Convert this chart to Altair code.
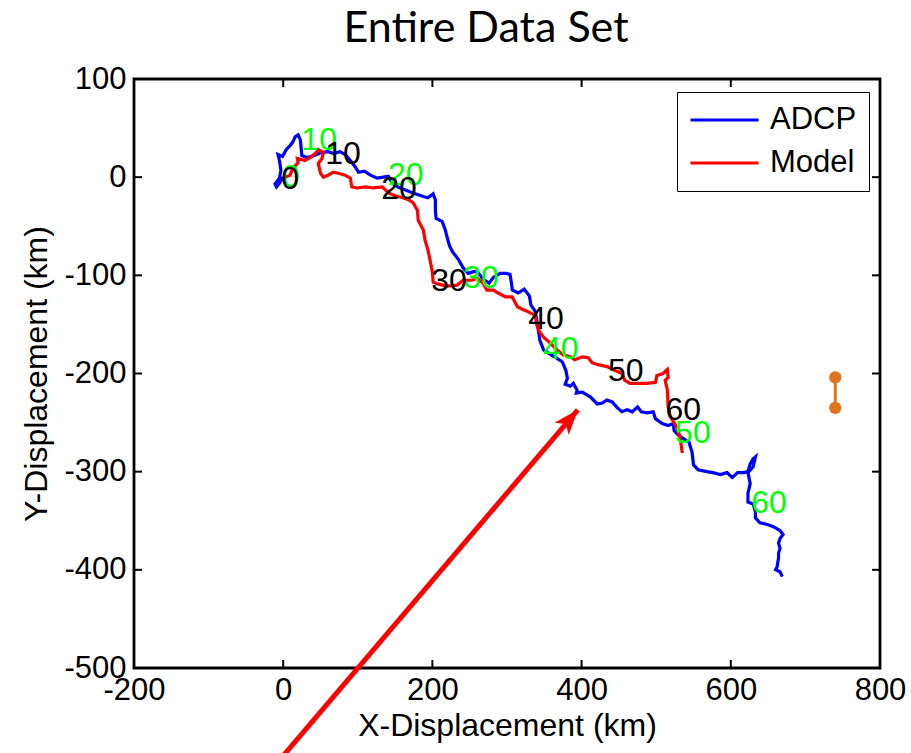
import altair as alt
import pandas as pd

# ---------------- data (km) ----------------
adcp_x = [0, -5, -9, -11, -5, -3, -5, -7, -1, 4, 9, 13, 16, 20, 23, 24, 25, 32, 42, 51,
          60, 68, 76, 83, 90, 97, 101, 109, 117, 126, 134, 141, 146, 154, 164, 173, 181, 189, 194, 201,
          204, 204, 205, 213, 217, 220, 223, 227, 235, 241, 248, 256, 261, 268, 276, 282, 291, 299, 304, 306,
          307, 315, 323, 330, 332, 338, 340, 342, 344, 349, 357, 366, 374, 379, 381, 378, 385, 389, 394, 393,
          401, 412, 421, 428, 434, 441, 448, 454, 461, 468, 475, 480, 488, 496, 499, 508, 516, 523, 524, 530,
          536, 544, 548, 550, 556, 568, 576, 586, 595, 602, 609, 617, 623, 626, 630, 633, 630, 623, 626, 623,
          623, 630, 633, 633, 639, 650, 657, 666, 670, 666, 664, 666, 664, 664, 662, 660, 666, 669]
adcp_y = [0, -6, -10, -7, -1, 7, 17, 23, 21, 28, 32, 36, 41, 43, 38, 30, 22, 20, 22, 25,
          26, 24, 26, 23, 17, 10, 5, 6, 2, -1, 0, 1, -6, -10, -13, -16, -18, -20, -21, -17,
          -23, -34, -42, -45, -53, -62, -70, -76, -84, -92, -98, -96, -97, -104, -108, -102, -98, -98, -99, -108,
          -115, -118, -114, -121, -130, -137, -146, -156, -166, -176, -180, -184, -188, -197, -205, -211, -213, -210, -217, -220,
          -219, -224, -231, -230, -227, -229, -235, -239, -237, -239, -234, -239, -240, -239, -246, -251, -253, -251, -258, -263,
          -266, -270, -280, -293, -298, -300, -301, -303, -301, -306, -301, -301, -300, -292, -287, -285, -295, -301, -312, -322,
          -331, -333, -341, -347, -352, -354, -356, -360, -364, -368, -373, -378, -383, -388, -397, -400, -402, -407]

model_x = [0, 9, 13, 20, 19, 29, 36, 43, 47, 54, 52, 47, 50, 54, 60, 67, 74, 83, 90, 92,
           99, 110, 121, 133, 141, 150, 160, 168, 174, 180, 181, 188, 190, 194, 197, 200, 201, 208, 220, 233,
           241, 253, 260, 268, 273, 282, 288, 298, 307, 314, 322, 328, 338, 340, 344, 349, 358, 367, 375, 385,
           391, 401, 409, 414, 422, 434, 445, 454, 458, 465, 479, 488, 499, 501, 509, 515, 516, 512, 515, 516,
           519, 528, 532, 535]
model_y = [-1, 2, 9, 15, 19, 17, 20, 24, 28, 25, 19, 14, 4, 0, 2, 5, 4, 2, -1, -10,
           -11, -10, -11, -10, -16, -19, -21, -23, -26, -34, -44, -54, -64, -74, -85, -97, -107, -109, -111, -110,
           -105, -105, -103, -108, -115, -115, -118, -122, -122, -132, -135, -137, -141, -151, -158, -163, -169, -176, -181, -183,
           -186, -183, -184, -189, -191, -193, -197, -200, -207, -210, -210, -210, -209, -202, -200, -196, -204, -207, -217, -234,
           -244, -255, -265, -281]

label_text = ["0", "10", "20", "30", "40", "50", "60"]
adcp_label_x = [1, 27, 143, 244, 351, 528, 630]
adcp_label_y = [0, 38, 2, -103, -175, -261, -332]
model_label_x = [0, 59, 134, 201, 331, 438, 515]
model_label_y = [-2, 24, -12, -106, -144, -197, -237]

bar_x = [740, 740]
bar_y = [-204, -235]

arrow_x = [-4, 395]
arrow_y = [-593, -237]

x_ticks = [-200, 0, 200, 400, 600, 800]
y_ticks = [-500, -400, -300, -200, -100, 0, 100]

series = ["ADCP", "Model"]
series_colors = ["#0000FF", "#FF0000"]

# ---------------- tables ----------------
lines_df = pd.concat([
    pd.DataFrame({"x": adcp_x, "y": adcp_y, "series": "ADCP", "order": range(len(adcp_x))}),
    pd.DataFrame({"x": model_x, "y": model_y, "series": "Model", "order": range(len(model_x))}),
])
adcp_lab = pd.DataFrame({"x": adcp_label_x, "y": adcp_label_y, "t": label_text})
model_lab = pd.DataFrame({"x": model_label_x, "y": model_label_y, "t": label_text})
bar_df = pd.DataFrame({"x": bar_x, "y": bar_y})
bar_seg = pd.DataFrame({"x": [bar_x[0]], "y": [bar_y[0]], "y2": [bar_y[1]]})
arrow_seg = pd.DataFrame({"x": [arrow_x[0]], "y": [arrow_y[0]], "x2": [arrow_x[1]], "y2": [arrow_y[1]]})
arrow_head = pd.DataFrame({"x": [arrow_x[1]], "y": [arrow_y[1]]})
xt = pd.DataFrame({"x": x_ticks})
yt = pd.DataFrame({"y": y_ticks})

W, H = 746, 589
FONT = "Liberation Sans"

xs = alt.Scale(domain=[-200, 800], nice=False, zero=False)
ys = alt.Scale(domain=[-500, 100], nice=False, zero=False)
xaxis = alt.Axis(values=x_ticks, grid=False, domain=False, ticks=False, labelFontSize=31,
                 labelFont=FONT, labelColor="black", labelPadding=7, title="X-Displacement (km)",
                 titleFont=FONT, titleFontSize=32, titleFontWeight="normal", titleColor="black",
                 titlePadding=5, labelFlush=False, labelExpr="'' + datum.value")
yaxis = alt.Axis(values=y_ticks, grid=False, domain=False, ticks=False, labelFontSize=31,
                 labelFont=FONT, labelColor="black", labelPadding=8, title="Y-Displacement (km)",
                 titleFont=FONT, titleFontSize=32, titleFontWeight="normal", titleColor="black",
                 titlePadding=10, labelFlush=False, labelExpr="'' + datum.value")
X = alt.X("x:Q", scale=xs, axis=xaxis)
Y = alt.Y("y:Q", scale=ys, axis=yaxis)

lines = alt.Chart(lines_df).mark_line(strokeWidth=3.2).encode(
    x=X, y=Y,
    color=alt.Color("series:N", scale=alt.Scale(domain=series, range=series_colors),
                    legend=alt.Legend(orient="none", legendX=543, legendY=13, title=None,
                                      symbolType="stroke", symbolSize=4624, symbolStrokeWidth=3,
                                      labelFontSize=31, labelFont=FONT, labelColor="black",
                                      strokeColor="black", fillColor="white", padding=12,
                                      rowPadding=11, labelOffset=10, labelLimit=400,
                                      clipHeight=32)),
    order="order:Q",
)

green_txt = alt.Chart(adcp_lab).mark_text(align="left", baseline="middle", fontSize=32, font=FONT,
                                          color="#00FF00", dx=-2).encode(x=X, y=Y, text="t:N")
black_txt = alt.Chart(model_lab).mark_text(align="left", baseline="middle", fontSize=32, font=FONT,
                                           color="black", dx=-2).encode(x=X, y=Y, text="t:N")

bar_line = alt.Chart(bar_seg).mark_rule(color="#E3731B", strokeWidth=3).encode(x=X, y=Y, y2="y2:Q")
bar_pts = alt.Chart(bar_df).mark_point(filled=True, color="#E3731B", size=150, opacity=1).encode(x=X, y=Y)

arrow_line = alt.Chart(arrow_seg).mark_rule(color="#FF0000", strokeWidth=5).encode(
    x=X, y=Y, x2="x2:Q", y2="y2:Q")
arrow_tip = alt.Chart(arrow_head).mark_point(
    shape="M0,0 L0.6,1.6 L0,1.2 L-0.6,1.6 Z", filled=True, color="#FF0000", size=975,
    angle=40.5, opacity=1).encode(x=X, y=Y)

TL = 8
tick_b = alt.Chart(xt).mark_rule(color="black", strokeWidth=2).encode(x=X, y=alt.value(H), y2=alt.value(H - TL))
tick_t = alt.Chart(xt).mark_rule(color="black", strokeWidth=2).encode(x=X, y=alt.value(0), y2=alt.value(TL))
tick_l = alt.Chart(yt).mark_rule(color="black", strokeWidth=2).encode(y=Y, x=alt.value(0), x2=alt.value(TL))
tick_r = alt.Chart(yt).mark_rule(color="black", strokeWidth=2).encode(y=Y, x=alt.value(W), x2=alt.value(W - TL))

chart = alt.layer(
    lines, green_txt, black_txt, bar_line, bar_pts, tick_b, tick_t, tick_l, tick_r, arrow_line, arrow_tip
).properties(
    width=W, height=H,
    autosize=alt.AutoSizeParams(type="none"),
    padding={"left": 134, "top": 79, "right": 31, "bottom": 85},
    title=alt.TitleParams("Entire Data Set", font="Lato", fontSize=43, fontWeight="normal",
                          color="black", anchor="middle", dx=-21, offset=12),
).configure(background="white").configure_view(stroke="black", strokeWidth=2.8)

chart.save("out.html", embed_options={"renderer": "svg", "actions": False})
